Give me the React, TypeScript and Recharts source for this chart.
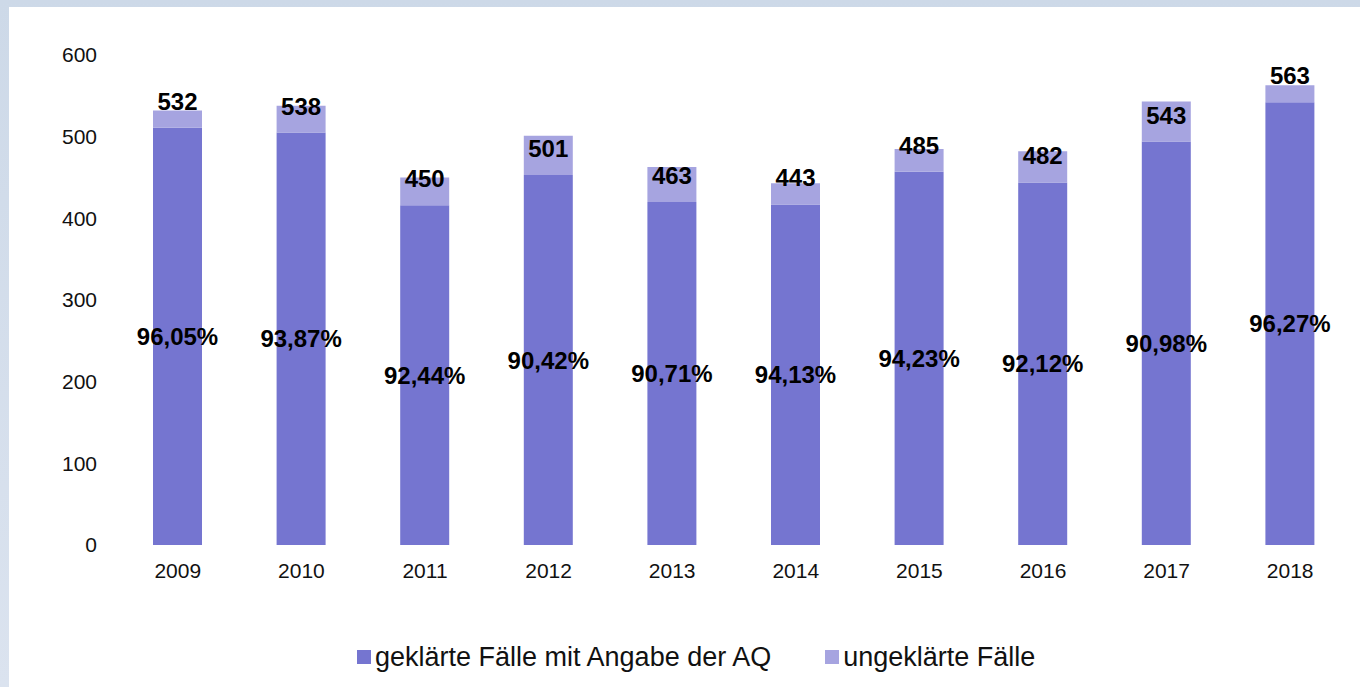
import { BarChart, Bar, XAxis, YAxis, Legend, LabelList } from 'recharts'

// ─── Data ─────────────────────────────────────────────────────────────────────

const YEARS = ['2009', '2010', '2011', '2012', '2013', '2014', '2015', '2016', '2017', '2018']
const TOTALS = [532, 538, 450, 501, 463, 443, 485, 482, 543, 563]
const GEKLAERT = [511, 505, 416, 453, 420, 417, 457, 444, 494, 542]
const UNGEKLAERT = [21, 33, 34, 48, 43, 26, 28, 38, 49, 21]
const QUOTE = ['96,05%', '93,87%', '92,44%', '90,42%', '90,71%', '94,13%', '94,23%', '92,12%', '90,98%', '96,27%']
const Y_TICKS = [0, 100, 200, 300, 400, 500, 600]

const DARK = '#7575d0'
const LIGHT = '#a6a4e0'
const FONT = '"Liberation Sans", Arial, sans-serif'

const chartData = YEARS.map((year, i) => ({
  year,
  total: TOTALS[i],
  geklaert: GEKLAERT[i],
  ungeklaert: UNGEKLAERT[i],
  quote: QUOTE[i],
}))

// ─── Legend ───────────────────────────────────────────────────────────────────

const LEGEND_ITEMS = [
  { label: 'geklärte Fälle mit Angabe der AQ', color: DARK },
  { label: 'ungeklärte Fälle', color: LIGHT },
]

function ChartLegend() {
  return (
    <div style={{ display: 'flex', alignItems: 'center', height: 36, paddingLeft: 348, fontFamily: FONT }}>
      {LEGEND_ITEMS.map((item, i) => (
        <div key={item.label} style={{ display: 'flex', alignItems: 'center', marginRight: i === 0 ? 54 : 0 }}>
          <span style={{ width: 14, height: 14, background: item.color, display: 'inline-block', marginRight: 4 }} />
          <span style={{ fontSize: 27, color: '#111' }}>{item.label}</span>
        </div>
      ))}
    </div>
  )
}

// ─── App ──────────────────────────────────────────────────────────────────────

export default function App() {
  return (
    <div style={{
      position: 'fixed', top: 0, left: 0, width: 1360, height: 687,
      background: 'linear-gradient(180deg, #cdd9e8 0%, #dbe3ef 100%)',
    }}>
      <div style={{ position: 'absolute', left: 9, top: 7, width: 1351, height: 680, background: '#fff' }}>
        <BarChart
          width={1351}
          height={680}
          data={chartData}
          margin={{ top: 48, right: 8, left: 0, bottom: 76 }}
        >
          <XAxis
            dataKey="year"
            axisLine={false}
            tickLine={false}
            tickMargin={12}
            height={30}
            tick={{ fontSize: 21, fill: '#111', fontFamily: FONT }}
          />
          <YAxis
            domain={[0, 600]}
            ticks={Y_TICKS}
            axisLine={false}
            tickLine={false}
            tickMargin={13}
            width={107}
            tick={{ fontSize: 21, fill: '#111', fontFamily: FONT }}
          />
          <Legend
            content={<ChartLegend />}
            wrapperStyle={{ top: 632, bottom: 'auto', left: 0, width: 1351 }}
          />
          <Bar dataKey="geklaert" stackId="a" fill={DARK} barSize={49} isAnimationActive={false}>
            <LabelList
              dataKey="quote"
              position="center"
              style={{ fontSize: 24, fontWeight: 700, fill: '#000', fontFamily: FONT }}
            />
          </Bar>
          <Bar dataKey="ungeklaert" stackId="a" fill={LIGHT} barSize={49} isAnimationActive={false}>
            {/* total sits at a fixed distance above the dark segment, like Excel's "inside base" */}
            <LabelList
              dataKey="total"
              position="insideBottom"
              offset={18}
              style={{ fontSize: 24, fontWeight: 700, fill: '#000', fontFamily: FONT }}
            />
          </Bar>
        </BarChart>
      </div>
    </div>
  )
}
